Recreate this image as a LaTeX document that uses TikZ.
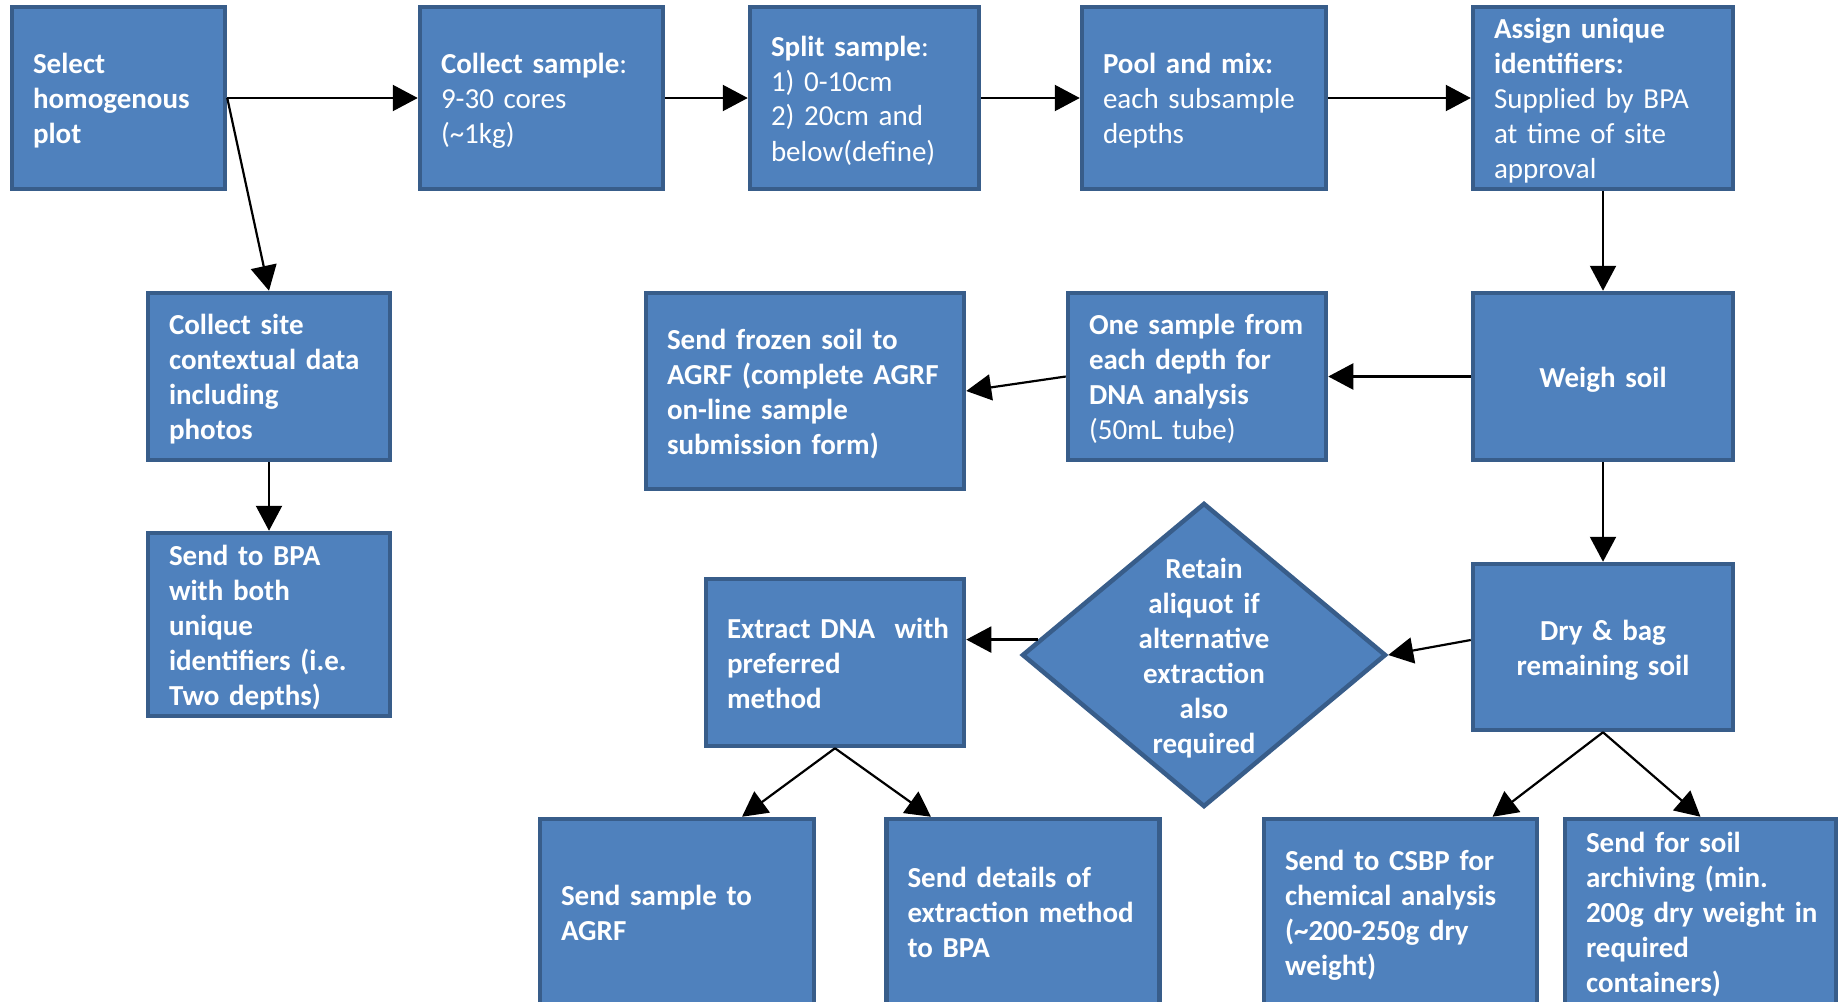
\documentclass[tikz,border=0pt]{standalone}
\usepackage{fontspec}
\setmainfont{Carlito}
\usetikzlibrary{arrows.meta,calc,shapes.geometric}
\definecolor{boxfill}{HTML}{4F81BD}
\definecolor{boxdraw}{HTML}{385D8A}
\begin{document}
\begin{tikzpicture}[x=1pt,y=-1pt,
  txt/.style={text=white, font=\fontsize{29}{35}\selectfont\bfseries,
    execute at begin node={\rule{0pt}{30pt}},
    execute at end node={\rule[-9pt]{0pt}{9pt}}},
  box/.style={txt, draw=boxdraw, fill=boxfill, line width=4.5pt,
    inner xsep=21pt, inner ysep=0pt, align=left},
  cbox/.style={box, align=center},
  arr/.style={draw=black, line width=2.2pt, -{Triangle[length=25pt,width=26pt]}},
]
\useasboundingbox (0,0) rectangle (1838,1001);
\clip (0,0) rectangle (1838,1001);

% top row
\node[box, text width=171pt, minimum height=182pt] (sel) at (118.5,98)
  {Select\\homogenous\\plot};
\node[box, text width=201pt, minimum height=182pt] (col) at (541.5,98)
  {Collect~sample\mdseries:\\\mdseries 9-30~cores\\\mdseries (\textasciitilde1kg)};
\node[box, text width=187pt, minimum height=182pt] (spl) at (864.5,98)
  {Split~sample\mdseries:\\\mdseries 1)~0-10cm\\\mdseries 2)~20cm~and\\\mdseries below(define)};
\node[box, text width=202pt, minimum height=182pt] (pool) at (1204,98)
  {Pool~and~mix:\\\mdseries each~subsample\\\mdseries depths};
\node[box, text width=218pt, minimum height=182pt] (asg) at (1603,98)
  {Assign~unique\\identifiers:\\\mdseries Supplied~by~BPA\\\mdseries at~time~of~site\\\mdseries approval};

% second row
\node[box, text width=200pt, minimum height=167pt] (site) at (269,376.5)
  {Collect~site\\contextual~data\\including\\photos};
\node[box, text width=276pt, minimum height=196pt] (frz) at (805,391)
  {Send~frozen~soil~to\\AGRF~(complete~AGRF\\on-line~sample\\submission~form)};
\node[box, text width=216pt, minimum height=167pt] (one) at (1197,376.5)
  {One~sample~from\\each~depth~for\\DNA~analysis\\\mdseries (50mL~tube)};
\node[cbox, text width=218pt, minimum height=167pt] (wgh) at (1603,376.5)
  {Weigh~soil};

% third row
\node[box, text width=200pt, minimum height=183pt] (bpa) at (269,624.5)
  {Send~to~BPA\\with~both\\unique\\identifiers~(i.e.\\Two~depths)};
\node[box, text width=216pt, minimum height=167pt] (ext) at (835,662.5)
  {Extract~DNA~~with\\preferred\\method};
\node[draw=boxdraw, fill=boxfill, line width=4.5pt, diamond, inner sep=0pt,
  minimum width=364pt, minimum height=304pt] (dia) at (1204,655) {};
\node[txt, align=center, text width=200pt, inner sep=0pt] (diat) at (dia.center)
  {Retain\\aliquot~if\\alternative\\extraction\\also\\required};
\node[cbox, text width=218pt, minimum height=166pt] (dry) at (1603,647)
  {Dry~\&~bag\\remaining~soil};

% bottom row
\node[box, text width=232pt, minimum height=186pt] (snd) at (677,912)
  {Send~sample~to\\AGRF};
\node[box, text width=231pt, minimum height=186pt] (det) at (1023,912)
  {Send~details~of\\extraction~method\\to~BPA};
\node[box, text width=231pt, minimum height=186pt] (csbp) at (1400.5,912)
  {Send~to~CSBP~for\\chemical~analysis\\(\textasciitilde200-250g~dry\\weight)};
\node[box, text width=229pt, minimum height=186pt] (arc) at (1700.5,912)
  {Send~for~soil\\archiving~(min.\\200g~dry~weight~in\\required\\containers)};

% connectors
\draw[arr] (sel.east) -- (col.west);
\draw[arr] (sel.east) -- (site.north);
\draw[arr] (col.east) -- (spl.west);
\draw[arr] (spl.east) -- (pool.west);
\draw[arr] (pool.east) -- (asg.west);
\draw[arr] (asg.south) -- (wgh.north);
\draw[arr] (wgh.west) -- (one.east);
\draw[arr] (one.west) -- (frz.east);
\draw[arr] (site.south) -- (bpa.north);
\draw[arr] (wgh.south) -- (dry.north);
\draw[arr] ([yshift=7pt]dry.west) -- (dia.east);
\coordinate (dw) at ($(dia.west)!0.1!(dia.north)$);
\draw[arr] (dw) -- (dw -| ext.east);
\draw[arr] (ext.south) -- ($(snd.north)+(65,0)$);
\draw[arr] (ext.south) -- ($(det.north)+(-92,0)$);
\draw[arr] (dry.south) -- ($(csbp.north)+(92,0)$);
\draw[arr] (dry.south) -- (arc.north);
\end{tikzpicture}
\end{document}
